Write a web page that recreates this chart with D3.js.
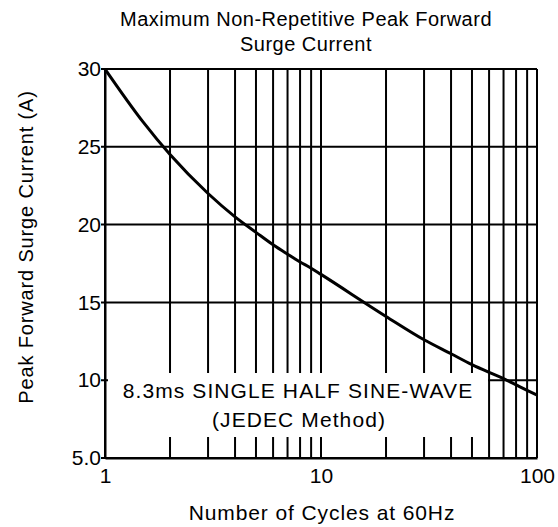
<!DOCTYPE html>
<html>
<head>
<meta charset="utf-8">
<script src="https://cdn.jsdelivr.net/npm/d3@7"></script>
<style>
  body { margin: 0; background: #fff; }
  text { font-family: "Liberation Sans", Arial, sans-serif; fill: #000; }
</style>
</head>
<body>
<div id="chart"></div>
<script>
// values
const cycles = [1, 1.5, 2, 3, 4, 5, 6, 7, 8, 9, 10, 20, 30, 40, 50, 60, 70, 80, 90, 100];
const surge = [30, 26.6, 24.5, 22.0, 20.5, 19.5, 18.7, 18.1, 17.6, 17.2, 16.8, 14.1, 12.6, 11.7, 11.0, 10.5, 10.1, 9.7, 9.35, 9.05];
const yTicks = [5, 10, 15, 20, 25, 30];
const xTicks = [1, 10, 100];

const width = 558;
const height = 527;
const margin = ({top: 69, right: 21, bottom: 69, left: 105});

const x = d3.scaleLog().domain([1, 100]).range([margin.left, width - margin.right]);
const y = d3.scaleLinear().domain([5, 30]).range([height - margin.bottom, margin.top]);

const svg = d3.select("#chart").append("svg")
	.attr("width", width)
	.attr("height", height);

// grid
svg.append("g")
	.selectAll("line")
	.data(x.ticks())
	.join("line")
		.attr("x1", d => x(d)).attr("x2", d => x(d))
		.attr("y1", y(5)).attr("y2", y(30))
		.attr("stroke", "#000")
		.attr("stroke-width", 2);

svg.append("g")
	.selectAll("line")
	.data(yTicks)
	.join("line")
		.attr("x1", x(1) - 4).attr("x2", x(100))
		.attr("y1", d => y(d)).attr("y2", d => y(d))
		.attr("stroke", "#000")
		.attr("stroke-width", 2);

// white label box over the grid
const box = {x0: 108, x1: 488, y0: 373, y1: 437};
svg.append("rect")
	.attr("x", box.x0).attr("y", box.y0)
	.attr("width", box.x1 - box.x0).attr("height", box.y1 - box.y0)
	.attr("fill", "#fff");

const note = svg.append("text")
	.attr("text-anchor", "middle")
	.attr("font-size", 21)
	.attr("letter-spacing", "1.1px");
note.append("tspan").attr("x", 298).attr("y", 398).text("8.3ms SINGLE HALF SINE-WAVE");
note.append("tspan").attr("x", 299).attr("y", 427).text("(JEDEC Method)");

// axes
const xAxis = g => g
	.attr("transform", `translate(0,${y(5)})`)
	.call(d3.axisBottom(x).tickValues(xTicks).tickFormat(d3.format("d")).tickSize(0).tickPadding(10))
	.call(g => g.select(".domain").attr("stroke-width", 2))
	.call(g => g.selectAll("text").attr("font-size", 21).attr("fill", "#000"));

const yAxis = g => g
	.attr("transform", `translate(${margin.left},0)`)
	.call(d3.axisLeft(y).tickValues(yTicks).tickFormat(d => d === 5 ? "5.0" : d).tickSize(0).tickPadding(4))
	.call(g => g.select(".domain").attr("stroke-width", 2))
	.call(g => g.selectAll("text").attr("font-size", 21).attr("fill", "#000"));

svg.append("g").call(xAxis);
svg.append("g").call(yAxis);

// curve
const line = d3.line()
	.x((d, i) => x(cycles[i]))
	.y(d => y(d))
	.curve(d3.curveMonotoneX);

svg.append("path")
	.datum(surge)
	.attr("fill", "none")
	.attr("stroke", "#000")
	.attr("stroke-width", 3)
	.attr("d", line);

// titles
const title = svg.append("text")
	.attr("text-anchor", "middle")
	.attr("font-size", 20)
	.attr("letter-spacing", "0.5px");
title.append("tspan").attr("x", 306).attr("y", 26).text("Maximum Non-Repetitive Peak Forward");
title.append("tspan").attr("x", 306).attr("y", 51).text("Surge Current");

svg.append("text")
	.attr("text-anchor", "middle")
	.attr("font-size", 21)
	.attr("letter-spacing", "0.9px")
	.attr("x", 322).attr("y", 520)
	.text("Number of Cycles at 60Hz");

svg.append("text")
	.attr("text-anchor", "middle")
	.attr("font-size", 20)
	.attr("letter-spacing", "0.85px")
	.attr("transform", `translate(33,247) rotate(-90)`)
	.text("Peak Forward Surge Current (A)");
</script>
</body>
</html>
